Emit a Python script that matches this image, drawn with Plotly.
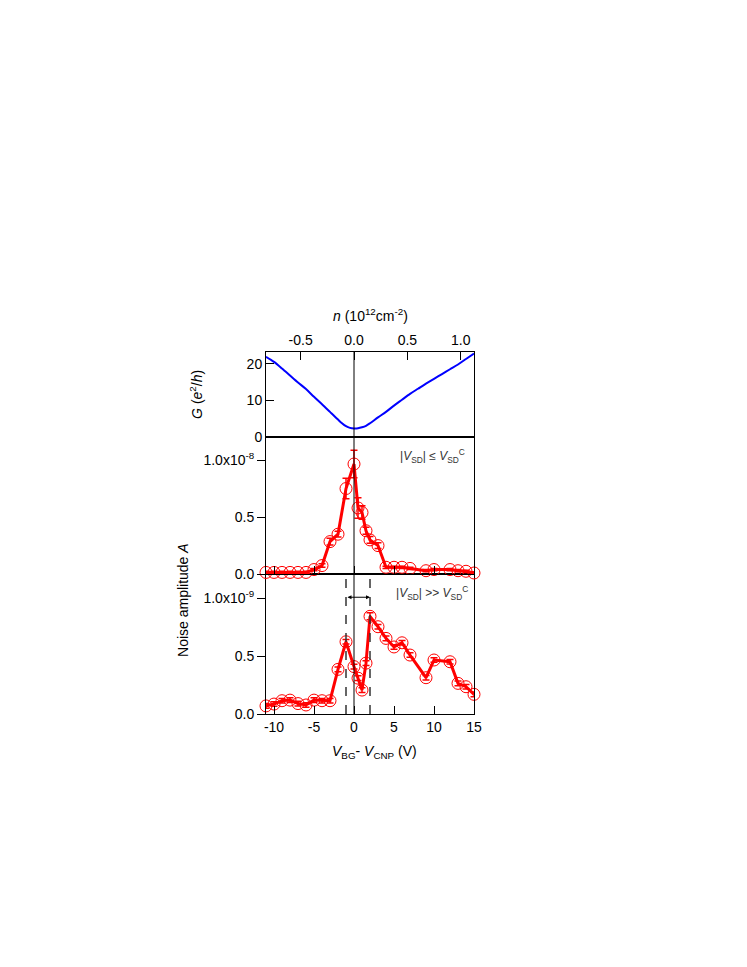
import plotly.graph_objects as go

# gate voltage V_BG - V_CNP (V) for the noise data
v_bg = [-11, -10, -9, -8, -7, -6, -5, -4, -3, -2, -1, 0, 0.5, 1, 1.5, 2,
        3, 4, 5, 6, 7, 9, 10, 12, 13, 14, 15]

# noise amplitude, |Vsd| <= Vsd^c  (units of 1e-8)
noise_low = [0.015, 0.015, 0.015, 0.015, 0.015, 0.015, 0.04, 0.075, 0.285, 0.35,
             0.75, 0.965, 0.58, 0.54, 0.38, 0.30, 0.25, 0.06, 0.06, 0.06, 0.05,
             0.03, 0.04, 0.04, 0.03, 0.025, 0.01]
noise_low_err = [0.01, 0.01, 0.01, 0.01, 0.01, 0.01, 0.01, 0.015, 0.03, 0.025,
                 0.09, 0.12, 0.09, 0.06, 0.03, 0.03, 0.025, 0.01, 0.01, 0.01, 0.01,
                 0.01, 0.01, 0.01, 0.01, 0.01, 0.01]

# noise amplitude, |Vsd| >> Vsd^c  (units of 1e-9)
noise_high = [0.07, 0.086, 0.115, 0.12, 0.09, 0.078, 0.12, 0.115, 0.115, 0.386,
              0.625, 0.41, 0.31, 0.207, 0.44, 0.845, 0.755, 0.654, 0.58, 0.616,
              0.51, 0.314, 0.467, 0.452, 0.265, 0.236, 0.17]
noise_high_err = [0.02] * 15 + [0.03] + [0.02] * 11

# conductance G (e^2/h)
v_g = [-11, -10, -9, -8, -7, -6, -5, -4, -3, -2, -1.5, -1, -0.5, 0, 0.5, 1,
       1.5, 2, 3, 4, 5, 6, 7, 8, 9, 10, 11, 12, 13, 14, 15]
g_vals = [21.9, 20.5, 18.7, 16.8, 14.9, 13.1, 11.0, 9.0, 6.9, 4.8, 3.8, 3.0,
          2.55, 2.4, 2.45, 2.7, 3.1, 3.8, 5.4, 6.9, 8.6, 10.2, 11.8, 13.2, 14.6,
          15.9, 17.2, 18.5, 19.8, 21.3, 22.8]

# top axis: carrier density n (1e12 cm^-2)
n_ticks = [-0.5, 0.0, 0.5, 1.0]
v_per_n = 13.35

x_ticks = [-10, -5, 0, 5, 10, 15]
x_ticktext = ["-10", "-5", "0", "5", "10", "15"]

RED = "#ff0000"

fig = go.Figure()

fig.add_trace(go.Scatter(
    x=v_g, y=g_vals, mode="lines", xaxis="x3", yaxis="y3",
    line=dict(color="#0000ff", width=2, shape="spline", smoothing=0.8),
))

fig.add_trace(go.Scatter(
    x=v_bg, y=[v * 1e-8 for v in noise_low], xaxis="x2", yaxis="y2",
    mode="lines+markers", cliponaxis=False,
    line=dict(color=RED, width=3),
    marker=dict(symbol="circle-open", size=12, color=RED, line=dict(width=1)),
    error_y=dict(type="data", array=[e * 1e-8 for e in noise_low_err],
                 color=RED, thickness=1.5, width=3.5),
))

fig.add_trace(go.Scatter(
    x=v_bg, y=[v * 1e-9 for v in noise_high], xaxis="x", yaxis="y",
    mode="lines+markers", cliponaxis=False,
    line=dict(color=RED, width=3),
    marker=dict(symbol="circle-open", size=12, color=RED, line=dict(width=1)),
    error_y=dict(type="data", array=[e * 1e-9 for e in noise_high_err],
                 color=RED, thickness=1.5, width=3.5),
))

ax_common = dict(showline=True, mirror=True, linecolor="black", linewidth=1,
                 showgrid=False, zeroline=False, ticklen=8, tickcolor="black",
                 tickwidth=1)

bot = [0, 0.3864]
mid = [0.3864, 0.7646]
top = [0.7646, 1]

# page body adds an 8px offset, so margins are shifted to compensate
fig.update_layout(
    width=747, height=967,
    margin=dict(l=258, r=281, t=344, b=261),
    plot_bgcolor="white", paper_bgcolor="white",
    showlegend=False,
    font=dict(family="Liberation Sans, Arial, sans-serif", size=14, color="black"),
    xaxis=dict(range=[-11, 15], anchor="y", tickvals=x_ticks, ticktext=x_ticktext,
               ticks="inside", **ax_common),
    yaxis=dict(domain=bot, range=[0, 1.21e-9], tickvals=[0, 0.5e-9, 1e-9],
               ticktext=["0.0", "0.5", "1.0x10<sup>-9</sup>"], ticks="outside",
               **ax_common),
    xaxis2=dict(matches="x", anchor="y2", tickvals=x_ticks, showticklabels=False,
                ticks="inside", **ax_common),
    yaxis2=dict(domain=mid, range=[0, 1.2e-8], tickvals=[0, 0.5e-8, 1e-8],
                ticktext=["0.0", "0.5", "1.0x10<sup>-8</sup>"], ticks="outside",
                **ax_common),
    xaxis3=dict(matches="x", anchor="y3", side="top",
                tickvals=[n * v_per_n for n in n_ticks],
                ticktext=["%.1f" % n if n >= 0 else "-%.1f" % abs(n) for n in n_ticks],
                ticks="inside", **ax_common),
    yaxis3=dict(domain=top, range=[0, 23.2], tickvals=[0, 10, 20],
                ticks="inside", **ax_common),
)

# vertical line at charge neutrality through all panels
fig.add_shape(type="line", xref="x", yref="paper", x0=0, x1=0, y0=0, y1=1,
              line=dict(color="black", width=1))
# dashed markers in bottom panel
for xv in [-1, 2]:
    fig.add_shape(type="line", xref="x", yref="paper", x0=xv, x1=xv, y0=0, y1=0.392,
                  line=dict(color="#333333", width=1.5, dash="dash"))

fig.add_annotation(x=2, y=1.01e-9, xref="x", yref="y", ax=-1, ay=1.01e-9,
                   axref="x", ayref="y", text="", showarrow=True,
                   arrowside="end+start", arrowhead=2, arrowsize=0.8,
                   arrowwidth=1, arrowcolor="black")

fig.add_annotation(text="|<i>V</i><sub>SD</sub>| ≤ <i>V</i><sub>SD</sub><sup>C</sup>",
                   xref="paper", yref="paper", x=0.80, y=0.713, showarrow=False,
                   xanchor="center", yanchor="middle",
                   font=dict(size=12, color="#333333"))
fig.add_annotation(text="|<i>V</i><sub>SD</sub>| >> <i>V</i><sub>SD</sub><sup>C</sup>",
                   xref="paper", yref="paper", x=0.80, y=0.334, showarrow=False,
                   xanchor="center", yanchor="middle",
                   font=dict(size=12, color="#333333"))

# axis titles
fig.add_annotation(text="<i>G</i> (<i>e</i><sup>2</sup>/<i>h</i>)", textangle=-90,
                   xref="paper", yref="paper", x=-0.337, y=0.884, showarrow=False,
                   xanchor="center", yanchor="middle")
fig.add_annotation(text="Noise amplitude <i>A</i>", textangle=-90,
                   xref="paper", yref="paper", x=-0.399, y=0.315, showarrow=False,
                   xanchor="center", yanchor="middle")
fig.add_annotation(text="<i>n</i> (10<sup>12</sup>cm<sup>-2</sup>)",
                   xref="paper", yref="paper", x=0.5, y=1.102, showarrow=False,
                   xanchor="center", yanchor="middle")
fig.add_annotation(text="<i>V</i><sub>BG</sub>- <i>V</i><sub>CNP</sub> (V)",
                   xref="paper", yref="paper", x=0.524, y=-0.104, showarrow=False,
                   xanchor="center", yanchor="middle")

fig.write_html("out.html")
